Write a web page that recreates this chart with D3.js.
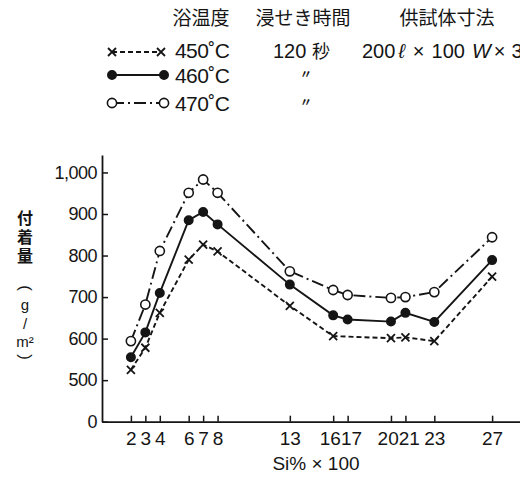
<!DOCTYPE html>
<html>
<head>
<meta charset="utf-8">
<script src="https://cdn.jsdelivr.net/npm/d3@7"></script>
<style>
  body { margin: 0; background: #fff; }
  svg { display: block; }
  .tick text { font-family: "Liberation Sans", Arial, sans-serif; }
  .vert { writing-mode: vertical-rl; text-orientation: upright; }
</style>
</head>
<body>
<div class="canvas"></div>
<script>
// data
const siX = [2, 3, 4, 6, 7, 8, 13, 16, 17, 20, 21, 23, 27];
const t450 = [525, 578, 662, 790, 826, 810, 679, 606, null, 601, 603, 594, 749];
const t460 = [555, 615, 710, 885, 905, 875, 730, 656, 646, 641, 662, 640, 789];
const t470 = [594, 682, 811, 951, 983, 951, 762, 717, 705, 698, 700, 712, 844];
const yTicks = [400, 500, 600, 700, 800, 900, 1000];
const tempLabels = ["450˚C", "460˚C", "470˚C"];
const headers = ["浴温度", "浸せき時間", "供試体寸法"];
const yTitle = "付着量";
const yUnit = ["(", "g", "/", "m²", ")"];

const width = 520;
const height = 477;
const ink = "#151515";
const jp = "'Noto Sans CJK JP', 'Noto Sans', sans-serif";
const num = "'Liberation Sans', Arial, sans-serif";

const svg = d3
  .select(".canvas")
  .append("svg")
  .attr("width", width)
  .attr("height", height);

// scales
const x = d3.scaleLinear().domain([0, 29]).range([102, 521]);
const y = d3.scaleLinear().domain([400, 1042]).range([421.7, 155]);

// series styles
const series = [
  { name: tempLabels[0], values: t450, dash: "5,3", marker: "cross" },
  { name: tempLabels[1], values: t460, dash: null, marker: "dot" },
  { name: tempLabels[2], values: t470, dash: "12,4,2,4", marker: "ring" },
];

const drawMarker = (g, type, cx, cy) => {
  if (type === "cross") {
    const s = 4;
    g.append("path")
      .attr("d", `M${cx - s},${cy - s}L${cx + s},${cy + s}M${cx - s},${cy + s}L${cx + s},${cy - s}`)
      .attr("stroke", ink)
      .attr("stroke-width", 1.8)
      .attr("fill", "none");
  } else {
    g.append("circle")
      .attr("cx", cx)
      .attr("cy", cy)
      .attr("r", type === "dot" ? 4.2 : 4.6)
      .attr("fill", type === "dot" ? ink : "#fff")
      .attr("stroke", ink)
      .attr("stroke-width", 1.6);
  }
};

// axes
const yAxis = d3
  .axisLeft(y)
  .tickValues(yTicks)
  .tickSizeInner(-6)
  .tickSizeOuter(0)
  .tickPadding(5)
  .tickFormat((d) => (d === 400 ? "0" : d3.format(",")(d)));

const xAxis = d3
  .axisBottom(x)
  .tickValues(siX)
  .tickSizeInner(-6)
  .tickSizeOuter(0)
  .tickPadding(10);

const yAxisGroup = svg
  .append("g")
  .attr("transform", `translate(${x(0)},0)`)
  .call(yAxis);

const xAxisGroup = svg
  .append("g")
  .attr("transform", `translate(0,${y(400)})`)
  .call(xAxis);

[yAxisGroup, xAxisGroup].forEach((g) => {
  g.select(".domain").attr("stroke", ink).attr("stroke-width", 1.8);
  g.selectAll(".tick line").attr("stroke", ink).attr("stroke-width", 1.5);
  g.selectAll(".tick text").attr("fill", ink);
});
yAxisGroup.selectAll(".tick text").style("font-size", "18px").style("letter-spacing", "-0.5px");
xAxisGroup.selectAll(".tick text").style("font-size", "19px");

// pack neighbouring two-digit labels together like the print
xAxisGroup.selectAll(".tick text").each(function (d) {
  const i = siX.indexOf(d);
  const t = d3.select(this);
  const prev = siX[i - 1];
  const next = siX[i + 1];
  if (d >= 10 && next !== undefined && next - d === 1) {
    t.attr("text-anchor", "end").attr("x", (x(next) - x(d)) / 2);
  } else if (d >= 10 && prev !== undefined && d - prev === 1) {
    t.attr("text-anchor", "start").attr("x", -(x(d) - x(prev)) / 2);
  }
});

// x axis title
svg
  .append("text")
  .attr("x", 316)
  .attr("y", 470)
  .attr("text-anchor", "middle")
  .attr("font-family", num)
  .attr("font-size", 19)
  .attr("fill", ink)
  .text("Si% × 100");

// y axis title, written vertically
svg
  .append("text")
  .attr("class", "vert")
  .attr("x", 25)
  .attr("y", 210)
  .attr("font-family", jp)
  .attr("font-size", 16)
  .attr("font-weight", 700)
  .attr("letter-spacing", 3)
  .attr("fill", ink)
  .text(yTitle);

// unit, one piece per line; the brackets are turned on their side
const unitY = [288, 304, 323, 341, 357];
svg
  .append("g")
  .selectAll("text")
  .data(yUnit)
  .enter()
  .append("text")
  .attr("transform", (d, i) =>
    i === 0 || i === 4
      ? `translate(25,${unitY[i]}) rotate(90)`
      : `translate(25,${unitY[i]})`
  )
  .attr("text-anchor", "middle")
  .attr("dominant-baseline", "central")
  .attr("font-family", num)
  .attr("font-size", (d, i) => (i === 0 || i === 4 ? 17 : 15))
  .attr("fill", ink)
  .text((d) => d);

// line generator
const line = d3
  .line()
  .x((d) => x(d[0]))
  .y((d) => y(d[1]));

const plot = svg.append("g");

series.forEach((s) => {
  const pts = siX.map((v, i) => [v, s.values[i]]).filter((p) => p[1] != null);
  plot
    .append("path")
    .datum(pts)
    .attr("fill", "none")
    .attr("stroke", ink)
    .attr("stroke-width", 1.9)
    .attr("stroke-dasharray", s.dash)
    .attr("d", line);
  pts.forEach((p) => drawMarker(plot, s.marker, x(p[0]), y(p[1])));
});

// legend / header block
const headerX = [201, 303, 447];
svg
  .append("g")
  .selectAll("text")
  .data(headers)
  .enter()
  .append("text")
  .attr("x", (d, i) => headerX[i])
  .attr("y", 25)
  .attr("text-anchor", "middle")
  .attr("font-family", jp)
  .attr("font-size", 19)
  .attr("fill", ink)
  .text((d) => d);

const rowY = [50, 75, 103];
const legend = svg.append("g");
series.forEach((s, i) => {
  const ly = rowY[i] + (i === 0 ? 2 : 0);
  legend
    .append("line")
    .attr("x1", 112)
    .attr("x2", i === 0 ? 161 : 164)
    .attr("y1", ly)
    .attr("y2", ly)
    .attr("stroke", ink)
    .attr("stroke-width", 1.9)
    .attr("stroke-dasharray", s.dash);
  drawMarker(legend, s.marker, 112, ly);
  drawMarker(legend, s.marker, i === 0 ? 161 : 164, ly);
  legend
    .append("text")
    .attr("x", 175)
    .attr("y", rowY[i] + 7.5)
    .attr("font-family", num)
    .attr("font-size", 21)
    .attr("letter-spacing", "-0.6px")
    .attr("fill", ink)
    .text(s.name);
});

// dipping time column
legend
  .append("text")
  .attr("x", 273)
  .attr("y", rowY[0] + 7.5)
  .attr("font-family", num)
  .attr("font-size", 20)
  .attr("fill", ink)
  .text("120 ")
  .append("tspan")
  .attr("font-family", jp)
  .attr("font-size", 18)
  .text("秒");

[1, 2].forEach((i) => {
  legend
    .append("text")
    .attr("x", 306)
    .attr("y", rowY[i] + 4)
    .attr("text-anchor", "middle")
    .attr("font-family", jp)
    .attr("font-size", 12)
    .attr("font-weight", 700)
    .attr("fill", ink)
    .text("〃");
});

// specimen size column (cut off at the page edge, as printed)
const size = legend
  .append("text")
  .attr("x", 362)
  .attr("y", rowY[0] + 7.5)
  .attr("font-family", num)
  .attr("font-size", 20)
  .attr("fill", ink);
size.append("tspan").text("200");
size.append("tspan").attr("font-style", "italic").attr("dx", 3).text("ℓ");
size.append("tspan").attr("dx", 8).text("×");
size.append("tspan").attr("dx", 7).text("100");
size.append("tspan").attr("font-style", "italic").attr("dx", 7).text("W");
size.append("tspan").attr("dx", 3).text("×");
size.append("tspan").attr("dx", 6).text("3");
</script>
</body>
</html>
